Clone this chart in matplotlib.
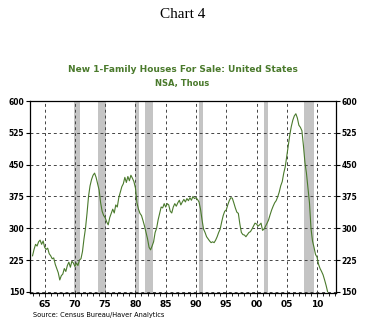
import numpy as np
from matplotlib import pyplot as plt
from matplotlib.ticker import MultipleLocator, FixedLocator

# quarterly readings, thousands of units (NSA)
start_year = 1963.0
houses = [
    235, 250, 262, 258,   # 1963
    268, 272, 262, 270,   # 1964
    255, 250, 253, 240,   # 1965
    235, 228, 230, 215,   # 1966
    205, 195, 178, 188,   # 1967
    192, 205, 198, 212,   # 1968
    220, 208, 222, 218,   # 1969
    210, 218, 212, 225,   # 1970
    228, 245, 275, 300,   # 1971
    335, 375, 400, 415,   # 1972
    425, 430, 420, 405,   # 1973
    390, 360, 340, 330,   # 1974
    325, 315, 308, 325,   # 1975
    335, 345, 336, 355,   # 1976
    350, 372, 385, 398,   # 1977
    405, 420, 408, 422,   # 1978
    412, 425, 418, 410,   # 1979
    395, 360, 345, 335,   # 1980
    330, 318, 305, 290,   # 1981
    275, 255, 249, 258,   # 1982
    268, 290, 300, 320,   # 1983
    335, 350, 348, 358,   # 1984
    350, 358, 355, 340,   # 1985
    336, 350, 358, 352,   # 1986
    360, 366, 355, 362,   # 1987
    368, 362, 370, 365,   # 1988
    372, 366, 375, 370,   # 1989
    372, 368, 362, 345,   # 1990
    320, 298, 290, 280,   # 1991
    275, 270, 266, 268,   # 1992
    266, 272, 280, 290,   # 1993
    298, 315, 330, 340,   # 1994
    343, 355, 365, 372,   # 1995
    371, 360, 348, 338,   # 1996
    335, 310, 290, 285,   # 1997
    284, 280, 285, 290,   # 1998
    292, 298, 305, 312,   # 1999
    310, 305, 308, 312,   # 2000
    295, 298, 305, 312,   # 2001
    320, 332, 343, 352,   # 2002
    360, 365, 374, 385,   # 2003
    400, 410, 430, 445,   # 2004
    470, 495, 520, 540,   # 2005
    555, 565, 570, 560,   # 2006
    543, 538, 530, 495,   # 2007
    455, 430, 395, 360,   # 2008
    300, 270, 255, 238,   # 2009
    232, 215, 205, 198,   # 2010
    190, 178, 165, 150,   # 2011
]
recessions = [(1969.9, 1970.85), (1973.85, 1975.2), (1980.0, 1980.55),
              (1981.5, 1982.9), (1990.55, 1991.2), (2001.2, 2001.85),
              (2007.9, 2009.45)]
year_labels = ['65', '70', '75', '80', '85', '90', '95', '00', '05', '10']
year_ticks = [1965, 1970, 1975, 1980, 1985, 1990, 1995, 2000, 2005, 2010]

t = start_year + np.arange(len(houses)) / 4.0

green = '#4a7a2c'
fig = plt.figure(figsize=(3.65, 3.27), dpi=100)
ax = fig.add_axes([0.082, 0.103, 0.838, 0.588])

for a, b in recessions:
    ax.axvspan(a, b, color='#c4c4c4', lw=0, zorder=1)

ax.plot(t, houses, color=green, lw=0.8, zorder=3)

ax.set_xlim(1962.57, 2013.1)
ax.set_ylim(146.5, 600)
ax.yaxis.set_major_locator(FixedLocator([150, 225, 300, 375, 450, 525, 600]))
ax.xaxis.set_major_locator(FixedLocator(year_ticks))
ax.xaxis.set_minor_locator(MultipleLocator(1))
ax.set_xticklabels(year_labels)
ax.grid(True, which='major', color='#444444', ls=(0, (3, 3)), lw=0.7, zorder=2)
ax.tick_params(axis='y', which='both', direction='out', length=3, width=0.8,
               labelsize=5.5, left=True, right=True, labelleft=True, labelright=True, pad=1)
ax.tick_params(axis='x', which='major', direction='out', length=3, width=0.6,
               labelsize=6.5, pad=2)
ax.tick_params(axis='x', which='minor', direction='out', length=2, width=0.6)
for lab in ax.get_yticklabels() + ax.get_xticklabels():
    lab.set_fontweight('bold')
for s in ax.spines.values():
    s.set_linewidth(0.9)

fig.text(0.5, 0.955, 'Chart 4', ha='center', va='center',
         fontsize=11, family='Liberation Serif')
fig.text(0.5, 0.787, 'New 1-Family Houses For Sale: United States', ha='center',
         va='center', fontsize=6.5, fontweight='bold', color=green)
fig.text(0.5, 0.745, 'NSA, Thous', ha='center', va='center', fontsize=6,
         fontweight='bold', color=green)
fig.text(0.09, 0.036, 'Source: Census Bureau/Haver Analytics', ha='left',
         va='center', fontsize=4.8)

plt.savefig('out.png', dpi=100)
